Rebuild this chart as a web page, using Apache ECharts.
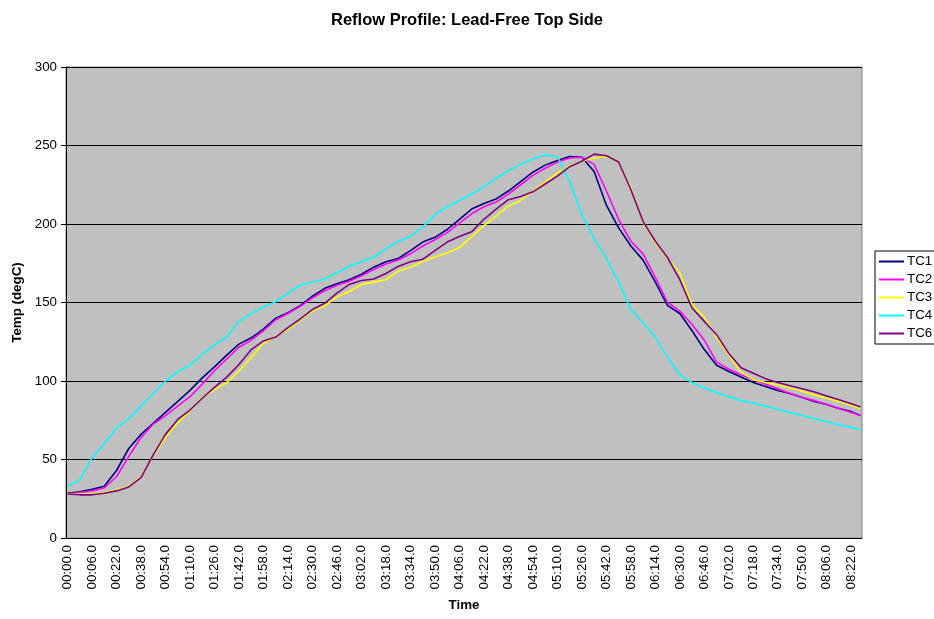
<!DOCTYPE html>
<html>
<head>
<meta charset="utf-8">
<title>Reflow Profile: Lead-Free Top Side</title>
<script src="https://cdn.jsdelivr.net/npm/echarts@6/dist/echarts.min.js"></script>
<style>
  html, body { margin: 0; padding: 0; background: #fff; }
  #chart { width: 934px; height: 619px; }
</style>
</head>
<body>
<div id="chart"></div>
<script>
// Logger timestamps: the first six samples are stamped 00:00.0, then one sample every 2 s.
const sampleCount = 260;
const timeLabels = [];
for (let i = 0; i < sampleCount; i++) {
  const t = i <= 5 ? 0 : (i - 5) * 2;
  const mm = String(Math.floor(t / 60)).padStart(2, '0');
  const ss = String(t % 60).padStart(2, '0');
  timeLabels.push(mm + ':' + ss + '.0');
}

// Sample positions (category index) at which the thermocouple readings are listed.
const readIdx = [0, 4, 8, 12, 16, 20, 24, 28, 32, 36, 40, 44, 48, 52, 56, 60, 64, 68, 72, 76,
  80, 84, 88, 92, 96, 100, 104, 108, 112, 116, 120, 124, 128, 132, 136, 140, 144, 148, 152, 156,
  160, 164, 168, 172, 176, 180, 184, 188, 192, 196, 200, 204, 208, 212, 216, 220, 224, 228, 232, 236,
  240, 244, 248, 252, 256, 259];

// Temperatures in degC
const tc1 = [28.5, 29.5, 31, 33, 43, 57, 66, 73, 80, 87, 94, 102, 109, 116.5, 123.5, 127.5, 133, 140, 143.5, 148,
  154, 159, 162, 164.5, 168, 172.5, 176, 178, 183, 188.5, 191.5, 196.5, 203, 209.5, 213, 216, 221, 227, 233, 237.5,
  240.5, 243, 242.5, 233.5, 212, 197.5, 186, 177, 163, 148, 143, 132, 120, 110, 106, 102.5, 99, 96.5, 94, 92,
  89.5, 87, 85, 82.5, 80.5, 78];
const tc2 = [28, 29, 30, 32, 39, 52, 64, 72.5, 78, 84, 90, 98, 106.5, 114, 121.5, 126, 132, 139, 143, 147.5,
  153, 157.5, 161, 163.5, 167, 171, 174.5, 177, 181, 186, 190, 194.5, 200.5, 206.5, 211, 214, 219, 225, 231, 235.5,
  239.5, 242, 242.5, 238, 221, 203, 189, 181, 166, 150, 144.5, 136, 126, 112, 107.5, 104, 101, 98, 95, 92,
  89.5, 87.5, 85, 82.5, 80, 78];
const tc3 = [28, 28, 28, 29, 30.5, 33, 39, 52.5, 64, 73.5, 81, 89.5, 94.5, 99, 106.5, 115, 124, 128.5, 133, 139,
  144.5, 148, 153.5, 157, 161.5, 163, 164.5, 170, 172.5, 176, 179, 181.5, 185, 192, 199, 205, 211.5, 215, 221, 226.5,
  232.5, 237, 240, 242, 243, 239.5, 223, 201, 188, 178, 168.6, 148.5, 140.5, 128, 116.5, 105.5, 101, 99, 97.5, 95.5,
  93.5, 91, 89, 87, 84.5, 82.5];
const tc4 = [33, 37, 51, 60, 70, 76, 84, 92, 100, 106, 110, 117, 123, 128, 138, 143, 147, 150.5, 156, 161,
  163, 165, 169, 173, 176, 179, 184, 189, 192, 198, 206, 211, 215, 219, 224, 229, 234, 238, 241.5, 244,
  243, 227, 206, 191, 178, 163, 145.5, 137, 128, 115, 104, 99, 95.5, 92.5, 90, 87.5, 86, 84, 82, 80,
  78, 76, 74, 72, 70.5, 69];
const tc6 = [28, 27.5, 27.5, 28.5, 30, 32.5, 38.5, 53, 66, 75.5, 81.5, 89, 96, 102.5, 110.5, 120, 125.5, 128, 134, 139.5,
  145.5, 149.5, 156, 161.5, 164, 165, 168.5, 173, 176, 177.5, 183, 188.5, 192, 195, 203, 209.5, 215.5, 217.5, 220.5, 225.5,
  230.5, 236.5, 240, 244.5, 243.5, 239.5, 222, 201.5, 189, 178.5, 164.5, 146.5, 138, 129.5, 117.5, 108.5, 105, 101.5, 99, 97,
  95, 93, 90.5, 88, 85.5, 83.5];

const seriesNames = ['TC1', 'TC2', 'TC3', 'TC4', 'TC6'];
const seriesColors = ['#000080', '#FF00FF', '#FFFF00', '#00FFFF', '#800080'];
const seriesValues = [tc1, tc2, tc3, tc4, tc6];

const yTicks = [0, 50, 100, 150, 200, 250, 300];

const font = 'Arial, "Liberation Sans", Helvetica, sans-serif';

const chart = echarts.init(document.getElementById('chart'), null, { renderer: 'canvas' });

chart.setOption({
  backgroundColor: '#ffffff',
  animation: false,
  textStyle: { fontFamily: font },
  title: {
    text: 'Reflow Profile: Lead-Free Top Side',
    left: 'center',
    top: 7,
    textStyle: { fontFamily: font, fontSize: 16.5, fontWeight: 'bold', color: '#000' }
  },
  legend: {
    orient: 'vertical',
    left: 875,
    top: 251,
    padding: [4, 20, 4, 4],
    itemGap: 5,
    itemWidth: 25,
    itemHeight: 2,
    borderColor: '#000',
    borderWidth: 1,
    backgroundColor: '#fff',
    borderRadius: 0,
    icon: 'rect',
    textStyle: { fontFamily: font, fontSize: 13.33, color: '#000', padding: [0, 0, 0, -2] },
    data: seriesNames
  },
  grid: {
    left: 66,
    top: 67,
    right: 72,
    bottom: 81,
    show: true,
    backgroundColor: '#C0C0C0',
    borderColor: '#808080',
    borderWidth: 1
  },
  xAxis: {
    type: 'category',
    data: timeLabels,
    boundaryGap: true,
    name: 'Time',
    nameLocation: 'middle',
    nameGap: 61,
    nameTextStyle: { fontFamily: font, fontSize: 13.33, fontWeight: 'bold', color: '#000' },
    axisLine: { lineStyle: { color: '#000', width: 1 } },
    axisTick: { interval: 0, length: 4, lineStyle: { color: '#000' } },
    axisLabel: {
      interval: 7,
      rotate: 90,
      margin: 7,
      fontFamily: font,
      fontSize: 13.33,
      color: '#000'
    },
    splitLine: { show: false }
  },
  yAxis: {
    type: 'value',
    min: yTicks[0],
    max: yTicks[yTicks.length - 1],
    interval: 50,
    name: 'Temp (degC)',
    nameLocation: 'middle',
    nameGap: 41,
    nameTextStyle: { fontFamily: font, fontSize: 13.33, fontWeight: 'bold', color: '#000' },
    axisLine: { show: true, lineStyle: { color: '#000', width: 1 } },
    axisTick: { show: true, length: 5, lineStyle: { color: '#000' } },
    axisLabel: { margin: 9, fontFamily: font, fontSize: 13.33, color: '#000' },
    splitLine: { show: true, lineStyle: { color: '#000', width: 1 } }
  },
  series: seriesNames.map((name, k) => ({
    name: name,
    type: 'line',
    data: readIdx.map((idx, j) => [idx, seriesValues[k][j]]),
    showSymbol: false,
    symbol: 'none',
    smooth: false,
    lineStyle: { color: seriesColors[k], width: 1.6 },
    itemStyle: { color: seriesColors[k] },
    z: 3 + k
  }))
});
</script>
</body>
</html>
